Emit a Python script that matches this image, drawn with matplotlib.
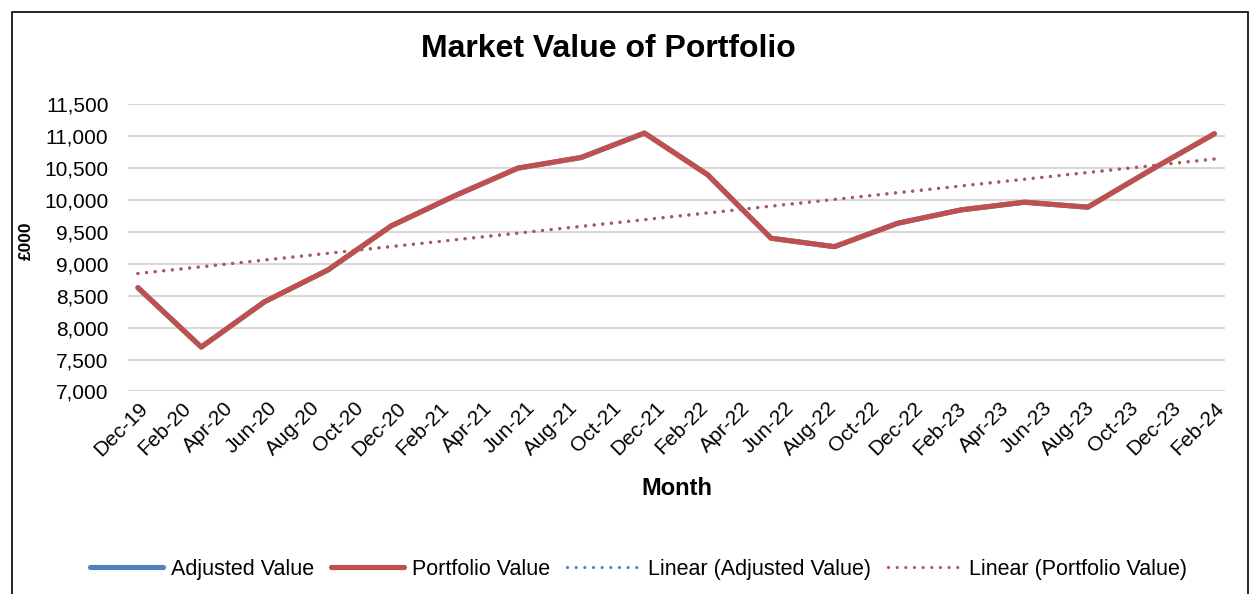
import numpy as np
import matplotlib
matplotlib.use("Agg")
from matplotlib import pyplot as plt
from matplotlib.patches import Rectangle

plt.rcParams['font.family'] = ['Liberation Sans', 'DejaVu Sans']

# quarterly values, £000
portfolio_value = [8624, 7695, 8404, 8901, 9591, 10061, 10495, 10662, 11044,
                   10390, 9398, 9266, 9633, 9842, 9962, 9884, 10469, 11033]
adjusted_value = list(portfolio_value)  # sits under the portfolio line

month_labels = ["Dec-19", "Feb-20", "Apr-20", "Jun-20", "Aug-20", "Oct-20",
                "Dec-20", "Feb-21", "Apr-21", "Jun-21", "Aug-21", "Oct-21",
                "Dec-21", "Feb-22", "Apr-22", "Jun-22", "Aug-22", "Oct-22",
                "Dec-22", "Feb-23", "Apr-23", "Jun-23", "Aug-23", "Oct-23",
                "Dec-23", "Feb-24"]

red = "#C0504D"
blue = "#4F81BD"

x = np.arange(len(portfolio_value))
tick_pos = np.linspace(0, len(portfolio_value) - 1, len(month_labels))

fig = plt.figure(figsize=(12.54, 5.94), dpi=100)
fig.patches.append(Rectangle((12 / 1254, -0.01), 1236 / 1254, 1 - 12 / 594 + 0.01,
                             transform=fig.transFigure, fill=False,
                             edgecolor="black", lw=1.2))
ax = fig.add_axes([0.102, 0.341, 0.875, 0.484])

ax.plot(x, adjusted_value, color=blue, lw=3.7, solid_capstyle="round",
        label="Adjusted Value")
ax.plot(x, portfolio_value, color=red, lw=3.7, solid_capstyle="round",
        label="Portfolio Value")

dots = (0, (0.01, 2.7))
fit_a = np.polyfit(x, adjusted_value, 1)
fit_p = np.polyfit(x, portfolio_value, 1)
ax.plot(x, np.polyval(fit_a, x), color=blue, lw=2.3, linestyle=dots,
        dash_capstyle="round", label="Linear (Adjusted Value)")
ax.plot(x, np.polyval(fit_p, x), color=red, lw=2.3, linestyle=dots,
        dash_capstyle="round", label="Linear (Portfolio Value)")

ax.set_ylim(7000, 11500)
ax.set_yticks(np.arange(7000, 11501, 500))
ax.set_yticklabels([f"{v:,}" for v in range(7000, 11501, 500)])
ax.set_xlim(-0.158, 17.17)
ax.set_xticks(tick_pos)
ax.set_xticklabels(month_labels, rotation=45, ha="right",
                   rotation_mode="anchor")
ax.tick_params(axis="both", length=0, labelsize=15)
ax.tick_params(axis="x", pad=5)
ax.tick_params(axis="y", pad=14)
ax.grid(axis="y", color="#d9d9d9", lw=1.5)
ax.set_axisbelow(True)
for s in ax.spines.values():
    s.set_visible(False)

fig.text(0.485, 0.918, "Market Value of Portfolio", ha="center", va="center",
         fontsize=23, fontweight="bold")
fig.text(0.540, 0.178, "Month", ha="center", va="center", fontsize=17,
         fontweight="bold")
fig.text(0.021, 0.594, "£000", ha="center", va="center", rotation=90,
         fontsize=12.5, fontweight="bold")

fig.legend(loc="center", bbox_to_anchor=(0.509, 0.042), ncol=4, frameon=False,
           fontsize=15.5, handlelength=3.4, columnspacing=0.8,
           handletextpad=0.35)

fig.savefig("out.png", dpi=100)
